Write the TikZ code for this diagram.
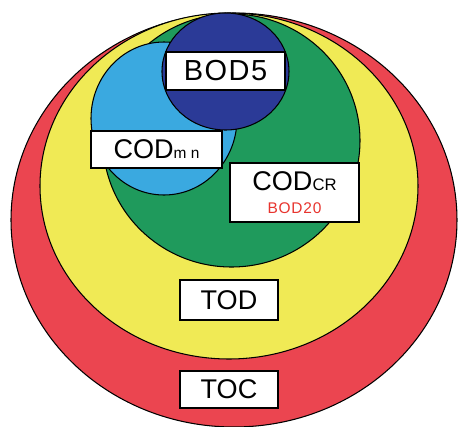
\documentclass[tikz,border=0pt]{standalone}
\usepackage{fontspec}
\setmainfont{Liberation Sans}
\usetikzlibrary{positioning}
\definecolor{cred}{HTML}{EB4550}
\definecolor{cyellow}{HTML}{F0EA55}
\definecolor{cgreen}{HTML}{1F9A5C}
\definecolor{clblue}{HTML}{3AA9E0}
\definecolor{cnavy}{HTML}{2B3A97}
\definecolor{cbod}{HTML}{E8342E}

\begin{document}
\begin{tikzpicture}[x=0.02cm,y=-0.02cm,font=\fontsize{15.4}{17}\selectfont]
  \tikzstyle{ring}=[draw=black,line width=0.6pt]
  \tikzstyle{box}=[draw,fill=white,line width=0.8pt,inner sep=0pt,align=center]
  \useasboundingbox (0,0) rectangle (458,427);

  % outer rings
  \filldraw[ring,fill=cred] (234,220) ellipse [x radius=223,y radius=207];
  \filldraw[ring,fill=cyellow] (229,186) ellipse [x radius=189,y radius=173];
  \filldraw[ring,fill=cgreen] (231.5,140.5) ellipse [x radius=128.5,y radius=126.5];
  % inner circles
  \filldraw[ring,fill=clblue] (164,118.5) ellipse [x radius=73,y radius=76.5];
  \filldraw[ring,fill=cnavy] (225.5,71.5) ellipse [x radius=63.5,y radius=58.5];

  % labels
  \node[box,minimum width=2.38cm,minimum height=0.76cm] (bod) at (225.5,71)
    {\fontsize{16.5}{18}\selectfont\addfontfeature{LetterSpace=5}BOD5};
  \node[box,minimum width=2.62cm,minimum height=0.74cm] (codmn) at (156.5,149.5)
    {COD{\fontsize{8.8}{9}\selectfont m n}};
  \node[box,minimum width=2.58cm,minimum height=1.18cm,font=\fontsize{15.4}{13}\selectfont] (codcr) at (294.5,192.5)
    {COD{\fontsize{9.5}{10}\selectfont CR}\\{\color{cbod}\fontsize{8.8}{9}\selectfont\addfontfeature{LetterSpace=5}BOD20}};
  \node[box,minimum width=1.96cm,minimum height=0.8cm] (tod) at (229,300) {TOD};
  \node[box,minimum width=1.96cm,minimum height=0.74cm] (toc) at (229,389.5) {TOC};
\end{tikzpicture}
\end{document}
